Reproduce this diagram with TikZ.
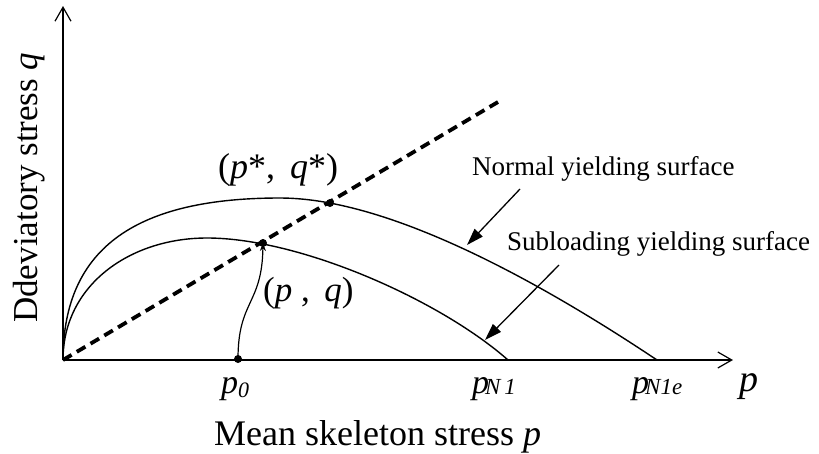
\documentclass[tikz,border=0pt]{standalone}
\usepackage{fontspec}
\setmainfont{Liberation Serif}
\usetikzlibrary{arrows.meta}
\begin{document}
\begin{tikzpicture}[x=1pt,y=-1pt,
  axis/.style={line width=1.4pt,-{Straight Barb[length=14pt,width=16pt,line width=1.2pt]}},
  surf/.style={line width=1.4pt},
  cline/.style={line width=3.8pt,dash pattern=on 10pt off 6pt},
  ptr/.style={line width=1.3pt,-{Triangle[length=17pt,width=11pt]}},
  dot/.style={circle,fill=black,inner sep=0pt,minimum size=8pt},
  lbl/.style={inner sep=0pt,anchor=base west},
  sz/.style={font=\fontsize{#1}{#1}\selectfont}]
\useasboundingbox (0,0) rectangle (819,453);
% coordinates
\coordinate (O) at (63,360);
\coordinate (ytop) at (63,6);
\coordinate (xend) at (733,360);
\coordinate (cs) at (498,102);
\coordinate (peakN) at (280,198);
\coordinate (peakS) at (207,238);
\coordinate (pN1e) at (657,360);
\coordinate (pN1) at (508,360);
% axes
\draw[axis] (O) -- (ytop);
\draw[axis] (O) -- (xend);
% surfaces
\draw[surf] (O) .. controls (63,245) and (140,198) .. (peakN)
  .. controls (400,198) and (567,300) .. (pN1e);
\draw[surf] (O) .. controls (63,285) and (130,238) .. (peakS)
  .. controls (300,238) and (440,300) .. (pN1);
% critical state line
\draw[cline] (O) -- (cs);
% points
\node[dot] (pq) at (263,243) {};
\node[dot] (pqs) at (330,203) {};
\node[dot] (p0) at (238,359) {};
% stress path
\draw[line width=1.2pt,-{Stealth[length=8pt,width=6pt]}] (p0.center) .. controls (238,300) and (262,305) .. (pq.center);
% labels
\node[lbl,sz=36] (lpqs) at (218,178) {(\textit{p}*,\ \,\textit{q}*)};
\node[lbl,sz=35] (lpq) at (263,301) {(\textit{p}\ ,\ \,\textit{q})};
\node[lbl,sz=27] (lN) at (472,175) {Normal yielding surface};
\node[lbl,sz=27] (lS) at (507,250) {Subloading yielding surface};
\coordinate (aN1) at (520,189);
\coordinate (aN2) at (467,245);
\coordinate (aS1) at (559,265);
\coordinate (aS2) at (485,340);
\draw[ptr] (aN1) -- (aN2);
\draw[ptr] (aS1) -- (aS2);
\node[lbl,sz=34] (lp0) at (221,393) {\textit{p}\raisebox{-4pt}{\fontsize{22}{22}\selectfont\textit{0}}};
\node[lbl,sz=34] (lpN1) at (472,393) {\textit{p}\kern-4pt\raisebox{-1pt}{\fontsize{23}{23}\selectfont\textit{N\,1}}};
\node[lbl,sz=34] (lpN1e) at (632,393) {\textit{p}\kern-4pt\raisebox{-1pt}{\fontsize{23}{23}\selectfont\textit{N1e}}};
\node[lbl,sz=38] (lp) at (739,391) {\textit{p}};
\node[lbl,sz=36] (lx) at (214,445) {Mean skeleton stress \textit{p}};
\node[lbl,sz=35,rotate=90] (ly) at (37,323) {Ddeviatory stress \textit{q}};
\end{tikzpicture}
\end{document}
